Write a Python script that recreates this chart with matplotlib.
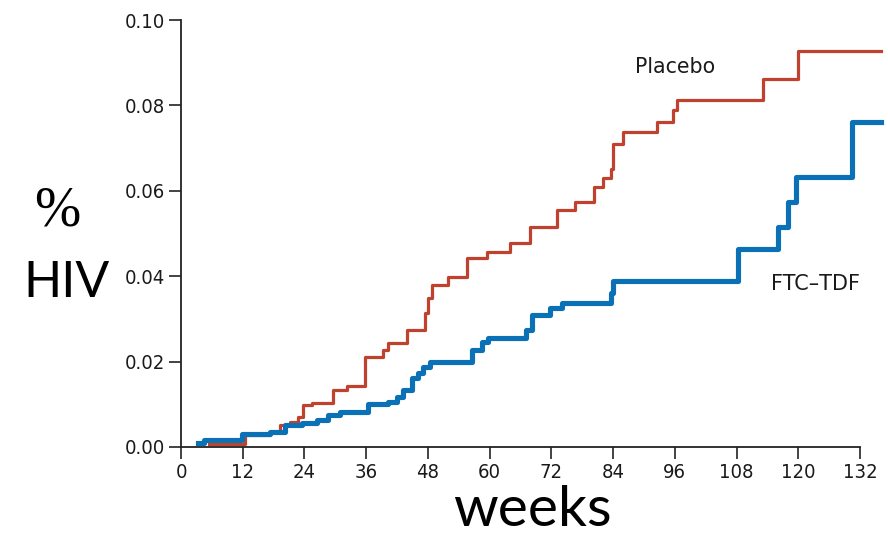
import matplotlib.pyplot as plt

# step times (weeks) and cumulative values
placebo_weeks = [5.5, 12.5, 17.3, 19.3, 21.2, 22.8, 23.7, 25.5, 29.6, 32.3, 35.8, 39.3,
                 40.3, 44.0, 47.5, 48.0, 48.8, 52.0, 55.6, 59.5, 64.0, 67.9, 73.1, 76.6,
                 80.2, 82.1, 83.5, 84.0, 86.0, 92.6, 95.7, 96.5, 113.2, 120.0, 136.0]
placebo_vals = [0.0007, 0.0028, 0.0035, 0.0052, 0.0058, 0.0070, 0.0098, 0.0103, 0.0133,
                0.0143, 0.0211, 0.0227, 0.0243, 0.0274, 0.0313, 0.0350, 0.0380, 0.0399,
                0.0442, 0.0457, 0.0478, 0.0515, 0.0555, 0.0574, 0.0610, 0.0630, 0.0650,
                0.0710, 0.0738, 0.0762, 0.0790, 0.0813, 0.0862, 0.0927, 0.0927]

ftc_weeks = [3.3, 4.5, 11.9, 17.3, 20.2, 23.5, 26.4, 28.6, 30.9, 36.4, 40.3, 42.0, 43.2,
             44.9, 46.1, 47.1, 48.4, 56.6, 58.5, 59.7, 67.0, 68.3, 71.8, 74.0, 83.5, 84.0,
             108.2, 116.0, 118.0, 119.5, 130.5, 136.0]
ftc_vals = [0.0010, 0.0017, 0.0030, 0.0035, 0.0052, 0.0057, 0.0063, 0.0075, 0.0082, 0.0100,
            0.0106, 0.0117, 0.0133, 0.0161, 0.0173, 0.0187, 0.0200, 0.0227, 0.0246, 0.0255,
            0.0274, 0.0310, 0.0325, 0.0338, 0.0360, 0.0389, 0.0464, 0.0515, 0.0574, 0.0632,
            0.0760, 0.0760]

x_ticks = list(range(0, 133, 12))
y_ticks = [0.00, 0.02, 0.04, 0.06, 0.08, 0.10]

red = "#c0422e"
blue = "#0a71b7"

fig = plt.figure(figsize=(8.88, 5.39), dpi=100)
ax = fig.add_axes([181 / 888, 92 / 539, 679 / 888, 427 / 539])

ax.step(ftc_weeks, ftc_vals, where="post", color=blue, lw=3.7, clip_on=False, zorder=3)
ax.step(placebo_weeks, placebo_vals, where="post", color=red, lw=2.3, clip_on=False, zorder=2)

ax.set_xlim(0, 132)
ax.set_ylim(0, 0.10)
ax.spines["top"].set_visible(False)
ax.spines["right"].set_visible(False)
for s in ("left", "bottom"):
    ax.spines[s].set_linewidth(1.3)
    ax.spines[s].set_color("#222222")

ax.set_xticks(x_ticks)
ax.set_yticks(y_ticks)
ax.set_yticklabels([f"{v:.2f}" for v in y_ticks])
ax.tick_params(direction="out", length=8.5, width=1.2, color="#222222", pad=3)
for lab in ax.get_xticklabels() + ax.get_yticklabels():
    lab.set_fontfamily("DejaVu Sans")
    lab.set_fontstretch("condensed")
    lab.set_fontsize(14.5)
    lab.set_color("#1a1a1a")

ax.text(96, 0.089, "Placebo", fontsize=14.8, ha="center", va="center", color="#1a1a1a")
ax.text(123.4, 0.0382, "FTC\u2013TDF", fontsize=15, ha="center", va="center", color="#1a1a1a")

fig.text(57 / 888, 1 - 211 / 539, "%", fontsize=40, family="Liberation Serif",
         ha="center", va="center")
fig.text(66 / 888, 1 - 283 / 539, "HIV", fontsize=36, family="Lato", ha="center", va="center")
fig.text(532 / 888, 1 - 511 / 539, "weeks", fontsize=41, family="Lato", ha="center", va="center")

fig.savefig("out.png", dpi=100)
